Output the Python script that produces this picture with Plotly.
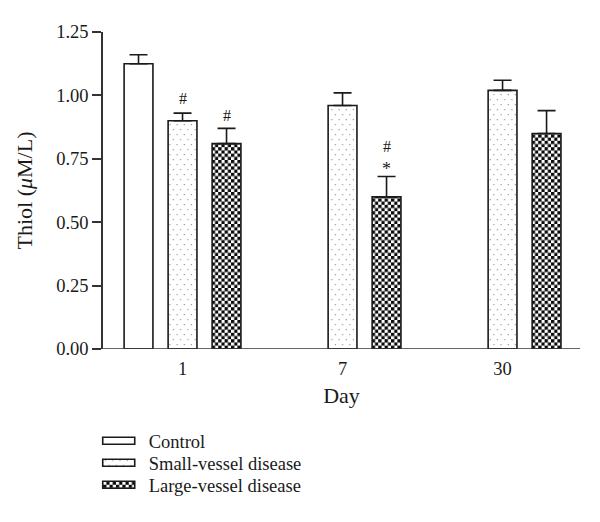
import plotly.graph_objects as go

days = ["1", "7", "30"]
control = [1.125, None, None]
control_err = [0.035, None, None]
small = [0.90, 0.96, 1.02]
small_err = [0.03, 0.05, 0.04]
large = [0.81, 0.60, 0.85]
large_err = [0.06, 0.08, 0.09]
y_ticks = [0.00, 0.25, 0.50, 0.75, 1.00, 1.25]

FONT = "Liberation Serif"
INK = "#1a1a1a"
FS = 18.5

def err(arr):
    return dict(type="data", array=arr, symmetric=False, arrayminus=[0, 0, 0],
                color=INK, thickness=1.6, width=9)

fig = go.Figure()
fig.add_bar(name="Control", x=days, y=control, error_y=err(control_err),
            marker=dict(color="white", line=dict(color=INK, width=1.6)))
fig.add_bar(name="Small-vessel disease", x=days, y=small, error_y=err(small_err),
            marker=dict(color="white", line=dict(color=INK, width=1.6),
                        pattern=dict(shape=".", size=6, solidity=0.05, fgcolor="#8a8a8a",
                                     bgcolor="white")))
fig.add_bar(name="Large-vessel disease", x=days, y=large, error_y=err(large_err),
            marker=dict(color="white", line=dict(color=INK, width=1.6),
                        pattern=dict(shape="+", size=6, solidity=0.5, fgcolor="black",
                                     bgcolor="white")))

# significance marks (category axis: positions by index)
i1, i7 = days.index("1"), days.index("7")
ann_font = dict(family=FONT, size=16, color=INK)
fig.add_annotation(x=i1, y=small[i1] + small_err[i1] + 0.056, text="#", showarrow=False,
                   font=ann_font)
fig.add_annotation(x=i1, xshift=44, y=large[i1] + large_err[i1] + 0.049, text="#",
                   showarrow=False, font=ann_font)
fig.add_annotation(x=i7, xshift=44, y=large[i7] + large_err[i7] + 0.117, text="#",
                   showarrow=False, font=ann_font)
fig.add_annotation(x=i7, xshift=44, y=large[i7] + large_err[i7] + 0.03, text="*",
                   showarrow=False, font=dict(family=FONT, size=18, color=INK))

# x axis line extending slightly left of the y axis
fig.add_shape(type="line", xref="paper", yref="y", x0=-0.021, x1=1, y0=0, y1=0,
              line=dict(color="#333", width=1.6))

fig.update_layout(
    width=600, height=522,
    margin=dict(l=95, r=28, t=24, b=181, autoexpand=False),
    paper_bgcolor="white", plot_bgcolor="white",
    barmode="group", bargap=0.175, bargroupgap=0.345,
    font=dict(family=FONT, size=FS, color=INK),
    showlegend=True,
    legend=dict(x=0.012, xanchor="left", y=-0.231, yanchor="top",
                font=dict(family=FONT, size=FS, color=INK), tracegroupgap=0,
                bgcolor="rgba(0,0,0,0)"),
)
fig.update_xaxes(type="category", range=[-0.497, 2.484], showline=False, ticks="outside",
                 ticklen=3, tickcolor="rgba(0,0,0,0)", showgrid=False, zeroline=False,
                 title=dict(text="Day", standoff=9),
                 tickfont=dict(family=FONT, size=FS))
fig.update_yaxes(range=[0, 1.25], tickvals=y_ticks, ticktext=[f"{v:.2f}" for v in y_ticks],
                 showline=True, linecolor="#333", linewidth=1.6, ticks="outside", ticklen=9,
                 tickwidth=1.6, tickcolor="#333", showgrid=False, zeroline=False,
                 title=dict(text="Thiol (<i>μ</i>M/L)", standoff=17),
                 tickfont=dict(family=FONT, size=FS))

# Restyle: checkerboard / staggered-dot fills, flat legend keys, tighter legend rows
post = """
(function(){
  var gd = document.getElementsByClassName('plotly-graph-div')[0];
  var ns = 'http://www.w3.org/2000/svg';
  function mk(tag, attrs){
    var e = document.createElementNS(ns, tag);
    for(var k in attrs){ e.setAttribute(k, attrs[k]); }
    return e;
  }
  function apply(){
    var svg = gd.querySelector('svg.main-svg');
    if(!svg) return;
    var defs = svg.querySelector('defs');
    if(!document.getElementById('checker6')){
      var p = mk('pattern', {id:'checker6', patternUnits:'userSpaceOnUse', width:'6.4', height:'6.4'});
      p.appendChild(mk('rect', {width:'6.4', height:'6.4', fill:'white'}));
      p.appendChild(mk('rect', {width:'3.3', height:'3.3', fill:'#0a0a0a'}));
      p.appendChild(mk('rect', {x:'3.2', y:'3.2', width:'3.3', height:'3.3', fill:'#0a0a0a'}));
      defs.appendChild(p);
      var q = mk('pattern', {id:'dots7', patternUnits:'userSpaceOnUse', width:'7.2', height:'10'});
      q.appendChild(mk('rect', {width:'7.2', height:'10', fill:'white'}));
      q.appendChild(mk('rect', {x:'1.5', y:'2', width:'1.2', height:'1.2', fill:'#9a9a9a'}));
      q.appendChild(mk('rect', {x:'5.1', y:'7', width:'1.2', height:'1.2', fill:'#9a9a9a'}));
      defs.appendChild(q);
    }
    var fills = [null, "url('#dots7')", "url('#checker6')"];
    var traces = gd.querySelectorAll('.barlayer .trace.bars');
    traces.forEach(function(tr, k){
      if(fills[k]){
        tr.querySelectorAll('.point path').forEach(function(el){ el.style.fill = fills[k]; });
      }
    });
    gd.querySelectorAll('.legend [clip-path]').forEach(function(el){
      el.removeAttribute('clip-path');
    });
    var items = gd.querySelectorAll('.legend .traces');
    var x0 = 0, y0 = 0;
    items.forEach(function(it, k){
      var t = it.getAttribute('transform') || '';
      var m = t.match(/translate\\(([-\\d.e]+)[ ,]+([-\\d.e]+)\\)/);
      if(m){
        if(k === 0){ x0 = parseFloat(m[1]); y0 = parseFloat(m[2]); }
        it.setAttribute('transform', 'translate(' + x0 + ',' + (y0 + 22*k) + ')');
      }
      it.querySelectorAll('.legendpoints path').forEach(function(el){
        el.setAttribute('d','M-26,3.5H6V-3.5H-26Z');
        if(fills[k]){ el.style.fill = fills[k]; }
      });
    });
  }
  apply();
  if(gd.on){ gd.on('plotly_afterplot', apply); }
})();
"""

fig.write_html("out.html", post_script=post)
